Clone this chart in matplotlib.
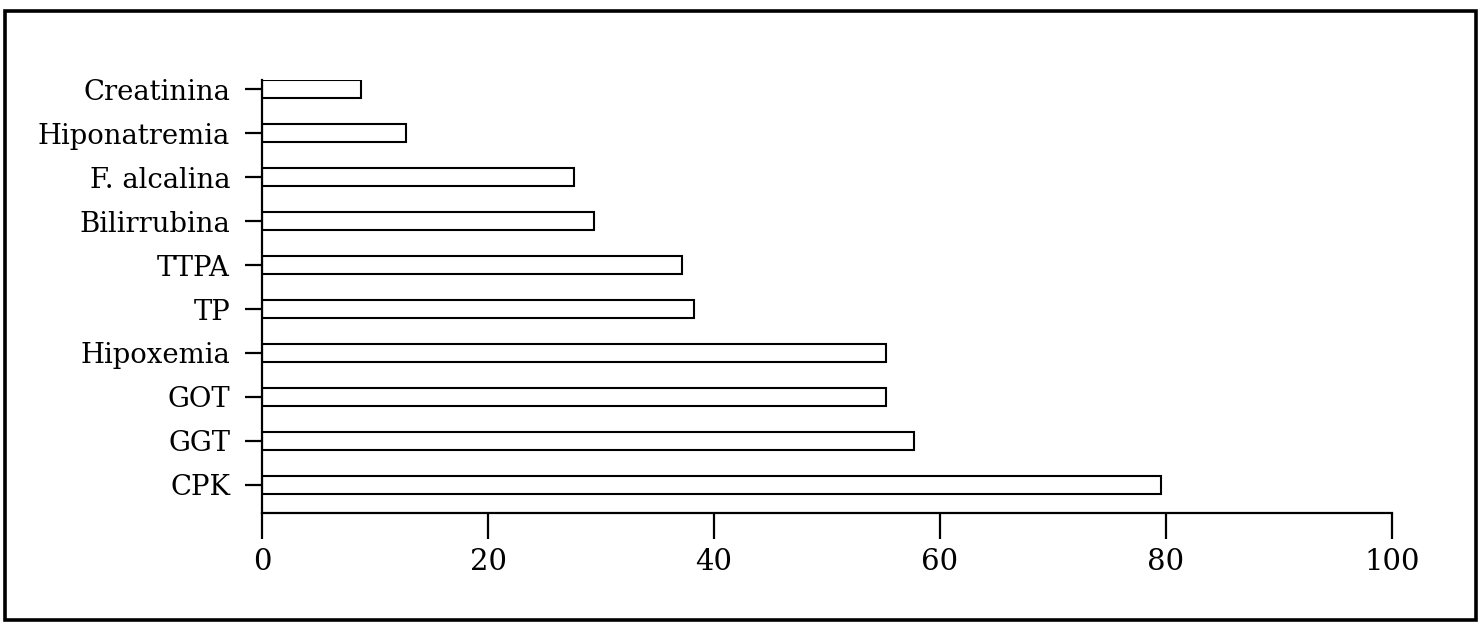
import numpy as np
import matplotlib
matplotlib.use("Agg")
from matplotlib import pyplot as plt
from matplotlib.patches import Rectangle

# bottom to top, as drawn
labels = ["CPK", "GGT", "GOT", "Hipoxemia", "TP", "TTPA",
          "Bilirrubina", "F. alcalina", "Hiponatremia", "Creatinina"]
values = [79.6, 57.7, 55.2, 55.2, 38.2, 37.2, 29.4, 27.6, 12.7, 8.8]
xticks = [0, 20, 40, 60, 80, 100]

plt.rcParams['font.family'] = ['DejaVu Serif']

W, H = 1484, 629
fig = plt.figure(figsize=(W / 100, H / 100), dpi=100)

# frame round the whole picture
fig.patches.append(Rectangle((4.5 / W, 1 - 619.5 / H), 1471 / W, 609 / H,
                             transform=fig.transFigure, fill=False,
                             edgecolor='black', linewidth=2.6))

ax = fig.add_axes([262 / W, 1 - 513 / H, (1392 - 262) / W, (513 - 80) / H])

pos = np.arange(len(labels))
ax.barh(pos, values, height=0.42, color='white', edgecolor='black', linewidth=1.5)

ax.set_xlim(0, 100)
ax.set_ylim(-0.64, 9.21)
ax.set_xticks(xticks)
ax.set_xticklabels([str(t) for t in xticks], fontsize=21)
ax.set_yticks(pos)
ax.set_yticklabels(labels, fontsize=19.8)

for side in ['top', 'right']:
    ax.spines[side].set_visible(False)
for side in ['left', 'bottom']:
    ax.spines[side].set_linewidth(1.6)

ax.tick_params(axis='y', length=12, width=1.6, pad=11, direction='out')
ax.tick_params(axis='x', length=19, width=1.6, pad=6, direction='out')

fig.savefig('out.png', dpi=100)
